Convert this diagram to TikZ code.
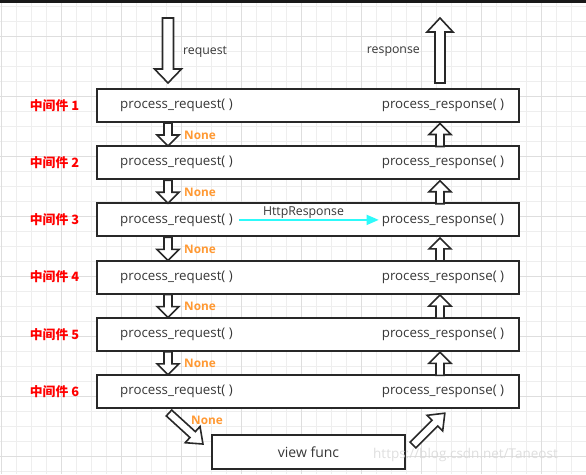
\documentclass[tikz,border=0pt]{standalone}
\usepackage{fontspec}
\setmainfont{Open Sans}
\newfontfamily\cjk{Noto Sans CJK SC}
\usetikzlibrary{arrows.meta}
\definecolor{gridminor}{RGB}{238,238,238}
\definecolor{gridmajor}{RGB}{222,222,222}
\definecolor{boxline}{RGB}{40,40,40}
\definecolor{txt}{RGB}{55,55,55}
\definecolor{mwred}{RGB}{255,0,0}
\definecolor{noneor}{RGB}{255,153,51}
\definecolor{cyanline}{RGB}{45,250,250}
\definecolor{wmark}{RGB}{215,215,215}
\tikzset{
  mwbox/.style={draw=boxline, line width=2pt, fill=white, minimum width=422pt, minimum height=33pt, inner sep=0pt},
  vfbox/.style={draw=boxline, line width=2pt, fill=white, minimum width=193pt, minimum height=34pt, inner sep=0pt, text=txt, font=\fontsize{14}{16}\selectfont},
  fn/.style={text=txt, font=\fontsize{13.3}{15}\selectfont, inner sep=0pt},
  mwlabel/.style={text=mwred, font=\cjk\bfseries\fontsize{12.8}{14}\selectfont, inner sep=0pt},
  nonelabel/.style={text=noneor, font=\bfseries\fontsize{11.8}{13}\selectfont, inner sep=0pt, anchor=west},
  plain/.style={text=txt, font=\fontsize{12.3}{14}\selectfont, inner sep=0pt},
  hollow/.style={draw=boxline, line width=1.6pt, fill=white, line join=miter},
  pics/harrow/.style args={#1/#2/#3/#4}{code={
    \draw[hollow] (-#1,0) -- (#1,0) -- (#1,#4-#3) -- (#2,#4-#3) -- (0,#4)
      -- (-#2,#4-#3) -- (-#1,#4-#3) -- cycle;}},
  cyanarrow/.style={draw=cyanline, line width=1.5pt, -{Triangle[length=12pt,width=10pt]}}
}
\begin{document}
\begin{tikzpicture}[x=1pt,y=-1pt]
\useasboundingbox (0,0) rectangle (586,474);
\fill[white] (0,0) rectangle (586,474);
% grid
\foreach \x in {1.5,16.5,...,586} \draw[gridminor, line width=1pt] (\x,0) -- (\x,474);
\foreach \y in {6.5,21.5,...,474} \draw[gridminor, line width=1pt] (0,\y) -- (586,\y);
\foreach \x in {1.5,61.5,...,586} \draw[gridmajor, line width=1pt] (\x,0) -- (\x,474);
\foreach \y in {36.5,96.5,...,474} \draw[gridmajor, line width=1pt] (0,\y) -- (586,\y);
% top bar
\fill[black!90] (0,0) rectangle (586,2.5);
% big input/output arrows
\pic at (168,18) {harrow=5.5/13.5/14/65};
\pic[rotate=180] at (440,83) {harrow=5/13/14/65};
\node[plain, anchor=west] (req) at (183,52) {request};
\node[plain, anchor=east] (resp) at (420,52) {response};
% middleware boxes
\foreach \i in {1,...,6} {
  \pgfmathsetmacro{\yc}{105.5+57.2*(\i-1)}
  \node[mwbox] (m\i) at (308,\yc) {};
  \node[fn] (q\i) at (176.5,\yc) {process\_request( )};
  \node[fn] (s\i) at (443,\yc) {process\_response( )};
  \node[mwlabel] (l\i) at (54.5,\yc) {中间件 \i};
}
\foreach \i in {1,...,5} {
  \pgfmathsetmacro{\yb}{105.5+57.2*(\i-1)+17.5}
  \pic at (168,\yb) {harrow=4/11/11/23};
  \pic[rotate=180] at (440,\yb+23.5) {harrow=4/11/11/23};
  \node[nonelabel] (n\i) at (184,\yb+12) {None};
}
% HttpResponse shortcut
\draw[cyanarrow] ([xshift=6pt]q3.east) -- ([xshift=-3pt]s3.west);
\node[plain] (hr) at (303.5,212.5) {HttpResponse};
% view func
\node[vfbox] (v) at (308.5,452) {view func};
\pic[rotate=47.6] at (169,413) {harrow=4/11/14/46};
\pic[rotate=135] at (413,445) {harrow=4/11/14/45};
\node[nonelabel] (n6) at (191,420) {None};
% watermark
\node[text=wmark, opacity=0.8, font=\fontsize{13.5}{16}\selectfont, anchor=west, inner sep=0pt] (wm) at (373,455) {https://blog.csdn.net/Taneost};
\end{tikzpicture}
\end{document}
